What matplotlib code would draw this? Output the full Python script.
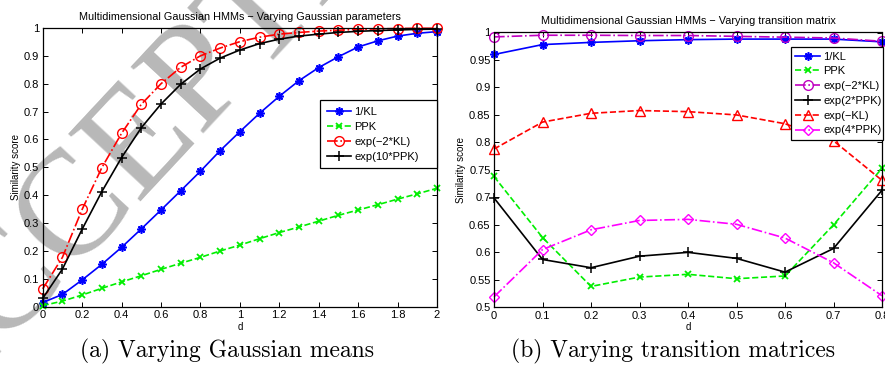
import matplotlib
matplotlib.use("Agg")
import matplotlib.pyplot as plt
import numpy as np

# ---- data: (a) varying gaussian means ----
d_a = [0.0, 0.1, 0.2, 0.3, 0.4, 0.5, 0.6, 0.7, 0.8, 0.9, 1.0,
       1.1, 1.2, 1.3, 1.4, 1.5, 1.6, 1.7, 1.8, 1.9, 2.0]
inv_kl_a = [0.015, 0.044, 0.096, 0.152, 0.213, 0.279, 0.347, 0.416, 0.486, 0.56, 0.628,
            0.694, 0.755, 0.811, 0.858, 0.897, 0.932, 0.954, 0.971, 0.981, 0.987]
ppk_a = [0.004, 0.02, 0.042, 0.066, 0.089, 0.111, 0.134, 0.156, 0.177, 0.2, 0.221,
         0.244, 0.266, 0.286, 0.307, 0.328, 0.347, 0.366, 0.386, 0.405, 0.425]
exp_2kl_a = [0.064, 0.177, 0.349, 0.499, 0.622, 0.726, 0.80, 0.859, 0.90, 0.928, 0.951,
             0.967, 0.978, 0.984, 0.989, 0.992, 0.995, 0.997, 0.998, 0.999, 0.999]
exp_10ppk_a = [0.03, 0.135, 0.278, 0.413, 0.535, 0.642, 0.727, 0.798, 0.853, 0.892, 0.921,
               0.944, 0.96, 0.971, 0.978, 0.984, 0.988, 0.991, 0.993, 0.995, 0.996]

# ---- data: (b) varying transition matrices ----
d_b = [0.0, 0.1, 0.2, 0.3, 0.4, 0.5, 0.6, 0.7, 0.8]
inv_kl_b = [0.960, 0.978, 0.982, 0.985, 0.987, 0.988, 0.988, 0.988, 0.983]
ppk_b = [0.738, 0.627, 0.538, 0.555, 0.560, 0.552, 0.557, 0.650, 0.753]
exp_2kl_b = [0.992, 0.995, 0.995, 0.9945, 0.9945, 0.993, 0.9915, 0.990, 0.984]
exp_2ppk_b = [0.699, 0.587, 0.572, 0.593, 0.600, 0.589, 0.564, 0.607, 0.713]
exp_kl_b = [0.788, 0.837, 0.853, 0.858, 0.856, 0.850, 0.834, 0.803, 0.731]
exp_4ppk_b = [0.519, 0.605, 0.641, 0.658, 0.660, 0.651, 0.626, 0.581, 0.521]

xticks_a = [0, 0.2, 0.4, 0.6, 0.8, 1, 1.2, 1.4, 1.6, 1.8, 2]
xtl_a = ["0", "0.2", "0.4", "0.6", "0.8", "1", "1.2", "1.4", "1.6", "1.8", "2"]
yticks_a = [0, 0.1, 0.2, 0.3, 0.4, 0.5, 0.6, 0.7, 0.8, 0.9, 1]
ytl_a = ["0", "0.1", "0.2", "0.3", "0.4", "0.5", "0.6", "0.7", "0.8", "0.9", "1"]
xticks_b = [0, 0.1, 0.2, 0.3, 0.4, 0.5, 0.6, 0.7, 0.8]
xtl_b = ["0", "0.1", "0.2", "0.3", "0.4", "0.5", "0.6", "0.7", "0.8"]
yticks_b = [0.5, 0.55, 0.6, 0.65, 0.7, 0.75, 0.8, 0.85, 0.9, 0.95, 1]
ytl_b = ["0.5", "0.55", "0.6", "0.65", "0.7", "0.75", "0.8", "0.85", "0.9", "0.95", "1"]

plt.rcParams["font.family"] = ["Liberation Sans", "DejaVu Sans"]
plt.rcParams["axes.linewidth"] = 0.9

W, H = 885, 367
fig = plt.figure(figsize=(W / 100, H / 100), dpi=100)

# grey watermark, behind the axes and their texts
fig.text(192 / W, 1 - 145 / H, "ACCEPTED", family="Liberation Serif", fontsize=108,
         color="#b8b8b8", rotation=47, ha="center", va="baseline",
         rotation_mode="anchor", zorder=-1)

ax1 = fig.add_axes([42.7 / W, 1 - 306.7 / H, (437 - 42.7) / W, (306.7 - 28) / H])
ax2 = fig.add_axes([494 / W, 1 - 307.3 / H, (882 - 494) / W, (307.3 - 32.5) / H])

blue, green, red, mag, purple = "#0000ff", "#00ee00", "#ff0000", "#ff00ff", "#c000c0"
star = (8, 2, 0)  # matlab style asterisk
lw, ms = 1.2, 6


def style_axes(ax):
    ax.patch.set_alpha(0)
    ax.tick_params(direction="in", top=True, right=True, length=3.5, width=0.7,
                   labelsize=8, pad=2.5)
    ax.set_xlabel("d", fontsize=7, labelpad=1)
    ax.set_ylabel("Similarity score", fontsize=7, labelpad=2)


def add_legend(ax, box, spacing, pad):
    # box = (x0, y_top, width) in axes fraction, legend stretched to that width
    leg = ax.legend(loc="upper left", bbox_to_anchor=(box[0], box[1], box[2], 0),
                    mode="expand", fontsize=8, frameon=True, fancybox=False,
                    edgecolor="k", borderaxespad=0, handlelength=2.2,
                    labelspacing=spacing, borderpad=pad, handletextpad=0.3,
                    framealpha=1)
    leg.get_frame().set_linewidth(0.9)
    leg.set_zorder(5)


# ---- panel (a) ----
ax1.plot(d_a, inv_kl_a, "-", marker=star, color=blue, lw=lw, ms=ms, mew=1.2, label="1/KL", clip_on=False)
ax1.plot(d_a, ppk_a, "--x", color=green, lw=lw, ms=ms - 1.5, mew=1.3, label="PPK", clip_on=False)
ax1.plot(d_a, exp_2kl_a, "-.o", color=red, lw=lw, ms=ms + 1, mfc="none", label="exp(−2*KL)", clip_on=False)
ax1.plot(d_a, exp_10ppk_a, "-+", color="k", lw=lw, ms=ms + 1, mew=1.1, label="exp(10*PPK)", clip_on=False)
ax1.set_xlim(0, 2)
ax1.set_ylim(0, 1)
ax1.set_xticks(xticks_a, xtl_a)
ax1.set_yticks(yticks_a, ytl_a)
style_axes(ax1)
ax1.set_title("Multidimensional Gaussian HMMs − Varying Gaussian parameters", fontsize=7.8, pad=6)
add_legend(ax1, (0.703, 0.742, 0.297), 0.45, 0.6)

# ---- panel (b) ----
ax2.plot(d_b, inv_kl_b, "-", marker=star, color=blue, lw=lw, ms=ms, mew=1.2, label="1/KL", clip_on=False)
ax2.plot(d_b, ppk_b, "--x", color=green, lw=lw, ms=ms - 1.5, mew=1.3, label="PPK", clip_on=False)
ax2.plot(d_b, exp_2kl_b, "-.o", color=purple, lw=lw, ms=ms + 1, mfc="none", label="exp(−2*KL)", clip_on=False)
ax2.plot(d_b, exp_2ppk_b, "-+", color="k", lw=lw, ms=ms + 1, mew=1.1, label="exp(2*PPK)", clip_on=False)
ax2.plot(d_b, exp_kl_b, "--^", color=red, lw=lw, ms=ms + 1, mfc="none", label="exp(−KL)", clip_on=False)
ax2.plot(d_b, exp_4ppk_b, "-.D", color=mag, lw=lw, ms=ms - 0.5, mfc="none", label="exp(4*PPK)", clip_on=False)
ax2.set_xlim(0, 0.8)
ax2.set_ylim(0.5, 1)
ax2.set_xticks(xticks_b, xtl_b)
ax2.set_yticks(yticks_b, ytl_b)
style_axes(ax2)
ax2.set_title("Multidimensional Gaussian HMMs − Varying transition matrix", fontsize=7.8, pad=6)
add_legend(ax2, (0.7655, 0.947, 0.237), 0.43, 0.4)

# ---- captions ----
fig.text(227 / W, 1 - 351 / H, "(a) Varying Gaussian means", family="cmr10",
         fontsize=17, ha="center", va="center")
fig.text(673 / W, 1 - 351 / H, "(b) Varying transition matrices", family="cmr10",
         fontsize=17, ha="center", va="center")

fig.savefig("out.png", dpi=100)
